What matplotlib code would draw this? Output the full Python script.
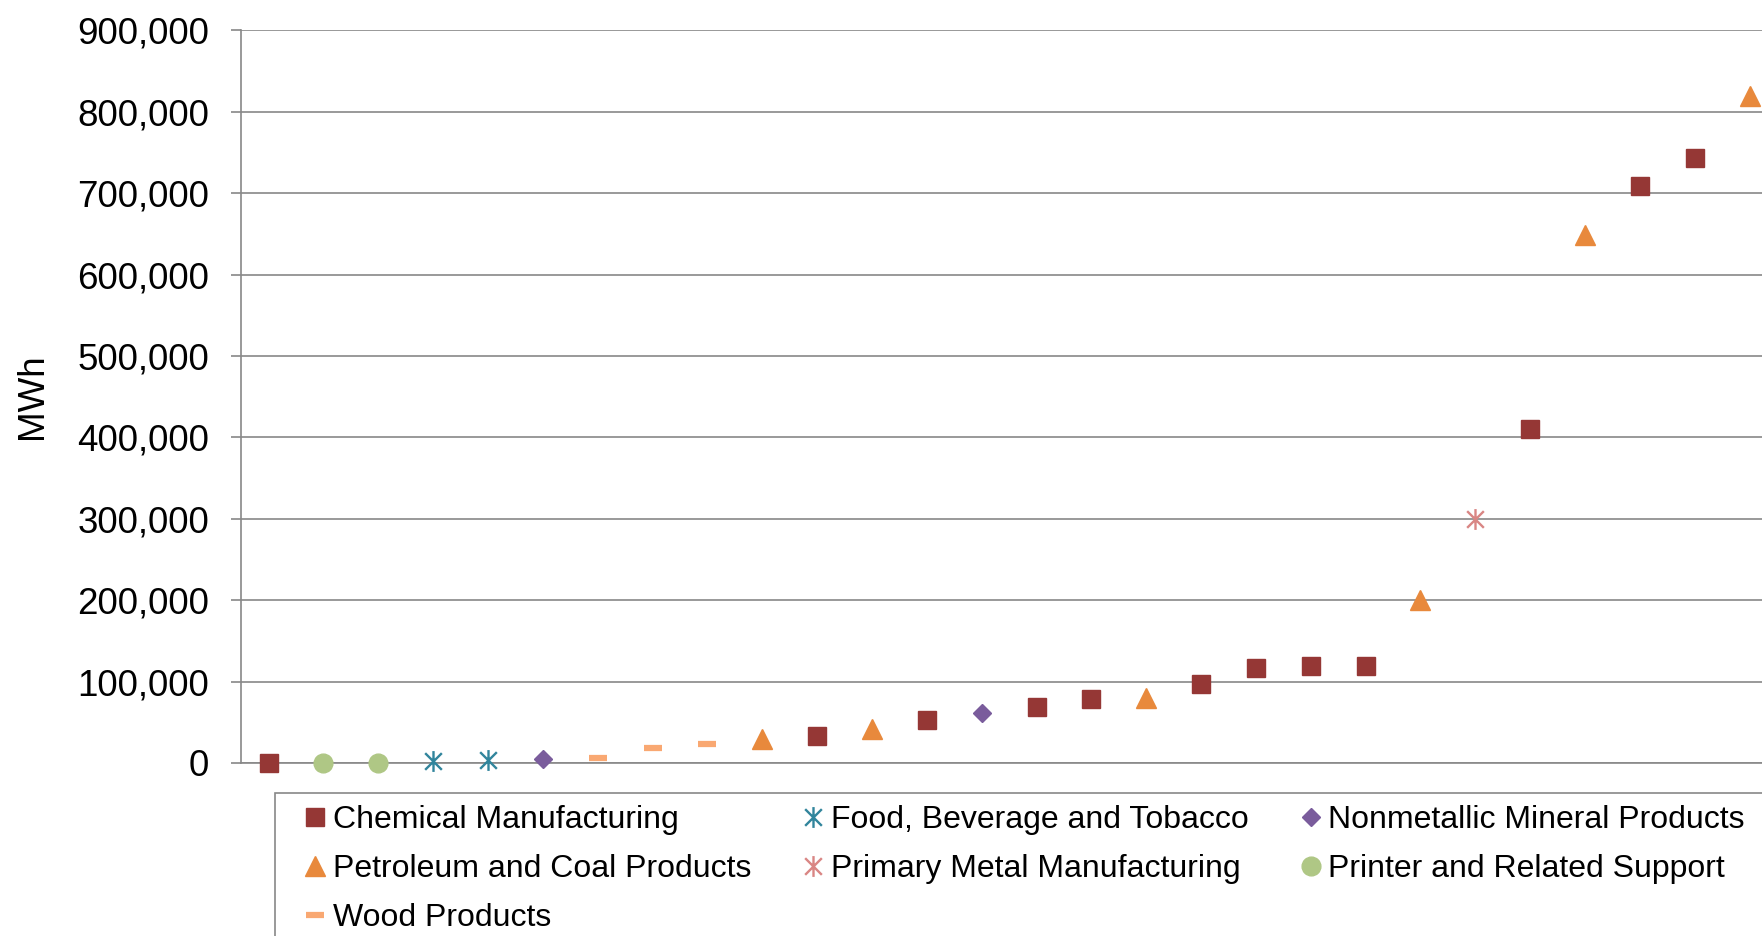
import matplotlib
matplotlib.use("Agg")
import matplotlib.pyplot as plt
import matplotlib.patches as mpatches
from matplotlib.path import Path
from matplotlib.ticker import FuncFormatter

plt.rcParams['font.family'] = ['Liberation Sans', 'DejaVu Sans']

# facilities sorted by annual consumption (MWh)
mwh = [0, 0, 0, 3000, 4000, 5000, 6500, 18500, 23000, 30000,
       33000, 42000, 53000, 61000, 69000, 78000, 80000, 97000, 117000, 119000,
       119000, 200000, 300000, 410000, 649000, 709000, 743000, 819000]
sector = ["Chemical Manufacturing", "Printer and Related Support", "Printer and Related Support",
          "Food, Beverage and Tobacco", "Food, Beverage and Tobacco", "Nonmetallic Mineral Products",
          "Wood Products", "Wood Products", "Wood Products", "Petroleum and Coal Products",
          "Chemical Manufacturing", "Petroleum and Coal Products", "Chemical Manufacturing",
          "Nonmetallic Mineral Products", "Chemical Manufacturing", "Chemical Manufacturing",
          "Petroleum and Coal Products", "Chemical Manufacturing", "Chemical Manufacturing",
          "Chemical Manufacturing", "Chemical Manufacturing", "Petroleum and Coal Products",
          "Primary Metal Manufacturing", "Chemical Manufacturing", "Petroleum and Coal Products",
          "Chemical Manufacturing", "Chemical Manufacturing", "Petroleum and Coal Products"]

sectors = ["Chemical Manufacturing", "Food, Beverage and Tobacco", "Nonmetallic Mineral Products",
           "Petroleum and Coal Products", "Primary Metal Manufacturing", "Printer and Related Support",
           "Wood Products"]

# asterisk: vertical bar plus an X
star = Path([(0, -1), (0, 1), (-0.8, -0.8), (0.8, 0.8), (-0.8, 0.8), (0.8, -0.8)],
            [Path.MOVETO, Path.LINETO, Path.MOVETO, Path.LINETO, Path.MOVETO, Path.LINETO])

style = {
    "Chemical Manufacturing": dict(marker='s', ms=12.5, color='#953735'),
    "Food, Beverage and Tobacco": dict(marker=star, ms=15, color='#31859c', mew=1.7),
    "Nonmetallic Mineral Products": dict(marker='D', ms=9.5, color='#7a5c9c'),
    "Petroleum and Coal Products": dict(marker='^', ms=14, color='#e8893c'),
    "Primary Metal Manufacturing": dict(marker=star, ms=15, color='#d98684', mew=1.7),
    "Printer and Related Support": dict(marker='o', ms=13.5, color='#afc785'),
    "Wood Products": dict(marker='_', ms=13, color='#f9a872', mew=4.5),
}

fig = plt.figure(figsize=(17.62, 9.36), dpi=100)
ax = fig.add_axes([240.5 / 1762, 1 - 763 / 936, 1 - 240.5 / 1762, (763 - 30.3) / 936])

handles = {}
for s in sectors:
    xs = [i + 1 for i, name in enumerate(sector) if name == s]
    ys = [mwh[i] for i, name in enumerate(sector) if name == s]
    st = style[s]
    h, = ax.plot(xs, ys, linestyle='none', marker=st['marker'], markersize=st['ms'],
                 color=st['color'], markeredgecolor=st['color'],
                 markeredgewidth=st.get('mew', 1.0), label=s, clip_on=False, zorder=3)
    handles[s] = h

ax.set_xlim(0.488, 28.226)
ax.set_ylim(0, 900000)
ax.set_yticks(range(0, 900001, 100000))
ax.yaxis.set_major_formatter(FuncFormatter(lambda v, p: f"{int(v):,}"))
ax.set_xticks([])
ax.tick_params(axis='y', labelsize=26.5, length=7.5, width=1.2, color='#888888', pad=15)
ax.grid(axis='y', color='#888888', linewidth=1.2)
ax.set_axisbelow(True)
for side in ['top', 'right']:
    ax.spines[side].set_visible(False)
for side in ['left', 'bottom']:
    ax.spines[side].set_color('#888888')
    ax.spines[side].set_linewidth(1.2)
ax.set_ylabel('MWh', fontsize=26.5)
ax.yaxis.set_label_coords(-(240.5 - 50) / 1521, 0.5)

# legend box runs off the figure like the original
box = mpatches.Rectangle((275 / 1762, -0.2), 1.0, (936 - 793) / 936 + 0.2,
                         transform=fig.transFigure, fill=False, edgecolor='#888888',
                         linewidth=1.2, clip_on=False)
fig.add_artist(box)

order = ["Chemical Manufacturing", "Petroleum and Coal Products", "Wood Products",
         "Food, Beverage and Tobacco", "Primary Metal Manufacturing",
         "Nonmetallic Mineral Products", "Printer and Related Support"]
fig.legend([handles[s] for s in order], order, ncol=3, frameon=False,
           loc='upper left', bbox_to_anchor=(305.5 / 1762, 1 - 805 / 936),
           fontsize=23, handlelength=0.6, handletextpad=0.25, columnspacing=1.65,
           labelspacing=0.6, borderpad=0, borderaxespad=0)

fig.savefig('out.png', dpi=100)
